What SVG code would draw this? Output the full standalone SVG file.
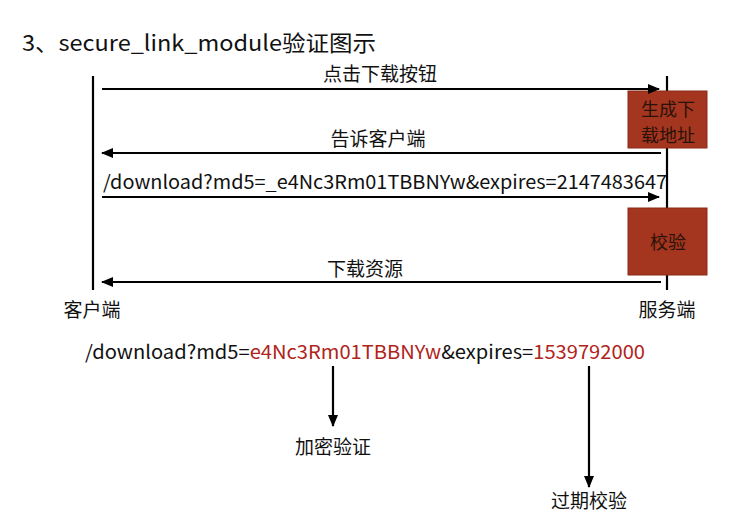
<svg xmlns="http://www.w3.org/2000/svg" width="744" height="528" viewBox="0 0 744 528">
<defs>
<marker id="ah" markerWidth="12" markerHeight="10" refX="11" refY="5" orient="auto" markerUnits="userSpaceOnUse">
<path d="M0,0 L12,5 L0,10 Z" fill="#000"/>
</marker>
<style>
text{font-family:"Noto Sans CJK SC","Open Sans","Liberation Sans",sans-serif;fill:#111;}
.lbl{font-size:19px;}
.line{stroke:#000;stroke-width:2.2;fill:none;}
.arr{stroke:#000;stroke-width:2.2;fill:none;marker-end:url(#ah);}
.box{fill:#a4351f;stroke:#8a2a17;stroke-width:1;}
.boxt{font-size:18px;fill:#2a120a;}
.red{fill:#b0241a;}
</style>
</defs>
<rect width="744" height="528" fill="#fff"/>
<text x="22" y="51" font-size="22" textLength="354" lengthAdjust="spacingAndGlyphs">3、secure_link_module验证图示</text>

<g id="client">
<line class="line" x1="93" y1="76" x2="93" y2="290"/>
<text class="lbl" x="92" y="317" text-anchor="middle">客户端</text>
</g>
<g id="server">
<line class="line" x1="667" y1="76" x2="667" y2="290"/>
<text class="lbl" x="667" y="317" text-anchor="middle">服务端</text>
</g>
<g id="gen">
<rect class="box" x="628" y="91" width="79" height="57"/>
<text class="boxt" x="668" y="116" text-anchor="middle">生成下</text>
<text class="boxt" x="668" y="142" text-anchor="middle">载地址</text>
</g>
<g id="verify">
<rect class="box" x="628" y="208" width="79" height="67"/>
<text class="boxt" x="668" y="249" text-anchor="middle">校验</text>
</g>

<g id="connectors">
<line class="arr" x1="102" y1="89" x2="659" y2="89"/>
<line class="arr" x1="661" y1="153" x2="102" y2="153"/>
<line class="arr" x1="102" y1="197" x2="659" y2="197"/>
<line class="arr" x1="661" y1="282" x2="102" y2="282"/>
<line class="arr" x1="333" y1="366" x2="333" y2="426"/>
<line class="arr" x1="589" y1="366" x2="589" y2="487"/>
</g>

<g id="labels">
<text class="lbl" x="380" y="81" text-anchor="middle">点击下载按钮</text>
<text class="lbl" x="378" y="146" text-anchor="middle">告诉客户端</text>
<text class="lbl" x="103" y="189" font-size="17" textLength="564" lengthAdjust="spacingAndGlyphs">/download?md5=_e4Nc3Rm01TBBNYw&amp;expires=2147483647</text>
<text class="lbl" x="365" y="276" text-anchor="middle">下载资源</text>
<text class="lbl" x="85" y="359" font-size="18" textLength="560" lengthAdjust="spacingAndGlyphs">/download?md5=<tspan class="red">e4Nc3Rm01TBBNYw</tspan>&amp;expires=<tspan class="red">1539792000</tspan></text>
<text class="lbl" x="333" y="454" text-anchor="middle">加密验证</text>
<text class="lbl" x="589" y="508" text-anchor="middle">过期校验</text>
</g>
</svg>
